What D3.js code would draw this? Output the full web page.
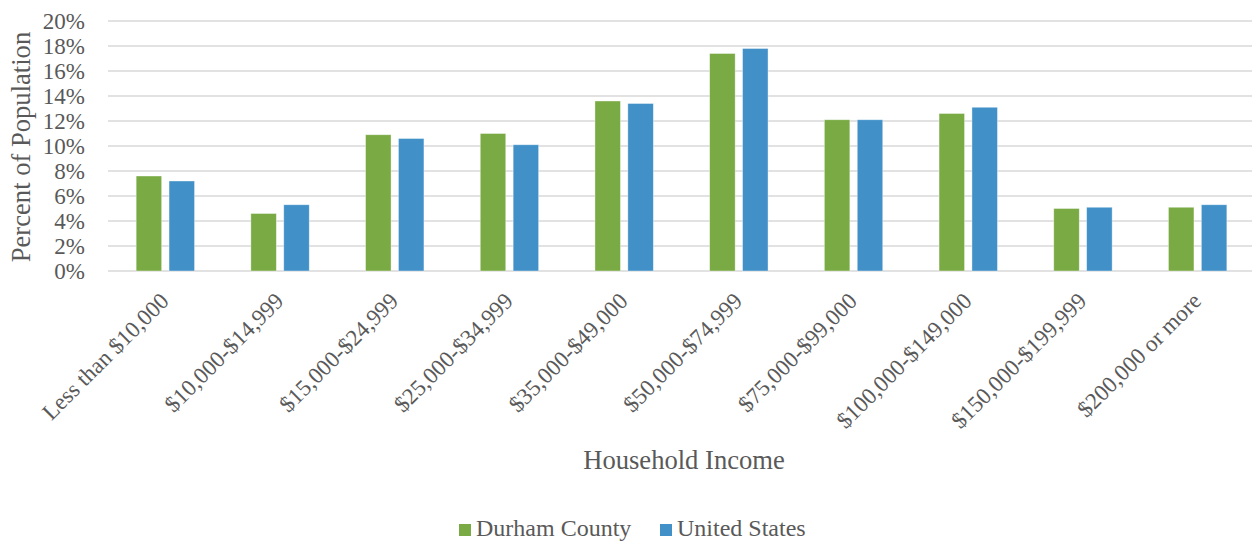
<!DOCTYPE html>
<html>
<head>
<meta charset="utf-8">
<script src="https://d3js.org/d3.v7.min.js"></script>
<style>
  body { margin: 0; background: #fff; }
  svg text { font-family: "Liberation Serif", "Times New Roman", Times, serif; fill: #595959; }
</style>
</head>
<body>
<div id="chart"></div>
<script>
// data
var categories = ["Less than $10,000", "$10,000-$14,999", "$15,000-$24,999", "$25,000-$34,999",
  "$35,000-$49,000", "$50,000-$74,999", "$75,000-$99,000", "$100,000-$149,000",
  "$150,000-$199,999", "$200,000 or more"];
var seriesNames = ["Durham County", "United States"];
var durham = [7.6, 4.6, 10.9, 11.0, 13.6, 17.4, 12.1, 12.6, 5.0, 5.1];
var usa = [7.2, 5.3, 10.6, 10.1, 13.4, 17.8, 12.1, 13.1, 5.1, 5.3];
var yTicks = [0, 2, 4, 6, 8, 10, 12, 14, 16, 18, 20];
var colors = ["#7AAA43", "#4191C8"];

var width = 1252, height = 541;
var plotLeft = 108, plotRight = 1255, plotTop = 21, plotBottom = 271;

var svg = d3.select("#chart").append("svg")
  .attr("width", width)
  .attr("height", height);

var x = d3.scaleBand()
  .domain(categories)
  .range([plotLeft, plotRight])
  .paddingInner(0.491)
  .paddingOuter(0.2455);

var xSub = d3.scaleBand()
  .domain(seriesNames)
  .range([0, x.bandwidth()])
  .paddingInner(0.225);

var y = d3.scaleLinear()
  .domain([0, 20])
  .range([plotBottom, plotTop]);

// gridlines
svg.append("g")
  .selectAll("line")
  .data(yTicks)
  .enter().append("line")
  .attr("x1", plotLeft)
  .attr("x2", plotRight)
  .attr("y1", function(d) { return y(d); })
  .attr("y2", function(d) { return y(d); })
  .attr("stroke", "#D9D9D9")
  .attr("stroke-width", 1.3);

// y tick labels
svg.append("g")
  .selectAll("text")
  .data(yTicks)
  .enter().append("text")
  .attr("x", 85)
  .attr("y", function(d) { return y(d); })
  .attr("dy", "0.34em")
  .attr("text-anchor", "end")
  .style("font-size", "23px")
  .text(function(d) { return d + "%"; });

// bars
var rows = categories.map(function(c, i) {
  return { cat: c, vals: [durham[i], usa[i]] };
});

var groups = svg.append("g")
  .selectAll("g")
  .data(rows)
  .enter().append("g")
  .attr("transform", function(d) { return "translate(" + x(d.cat) + ",0)"; });

groups.selectAll("rect")
  .data(function(d) { return d.vals.map(function(v, j) { return { s: seriesNames[j], v: v, j: j }; }); })
  .enter().append("rect")
  .attr("x", function(d) { return xSub(d.s); })
  .attr("width", xSub.bandwidth())
  .attr("y", function(d) { return y(d.v); })
  .attr("height", function(d) { return y(0) - y(d.v); })
  .attr("fill", function(d) { return colors[d.j]; })
  .attr("stroke", "#fff")
  .attr("stroke-opacity", 0.5)
  .attr("stroke-width", 0.75);

// x tick labels, rotated
svg.append("g")
  .selectAll("text")
  .data(categories)
  .enter().append("text")
  .attr("text-anchor", "end")
  .attr("transform", function(d) {
    return "translate(" + (x(d) + x.bandwidth() / 2 - 6.5) + ",291) rotate(-45)";
  })
  .attr("dy", "0.7em")
  .style("font-size", "23px")
  .text(function(d) { return d; });

// axis titles
svg.append("text")
  .attr("transform", "translate(30,147) rotate(-90)")
  .attr("text-anchor", "middle")
  .style("font-size", "26.6px")
  .text("Percent of Population");

svg.append("text")
  .attr("x", 684)
  .attr("y", 469)
  .attr("text-anchor", "middle")
  .style("font-size", "26.6px")
  .text("Household Income");

// legend
var legend = svg.append("g")
  .attr("transform", "translate(459,536)");
var legX = [0, 201];
seriesNames.forEach(function(name, i) {
  legend.append("rect")
    .attr("x", legX[i])
    .attr("y", -12)
    .attr("width", 12)
    .attr("height", 12)
    .attr("fill", colors[i]);
  legend.append("text")
    .attr("x", legX[i] + 17)
    .attr("y", 0)
    .style("font-size", "24px")
    .text(name);
});
</script>
</body>
</html>
